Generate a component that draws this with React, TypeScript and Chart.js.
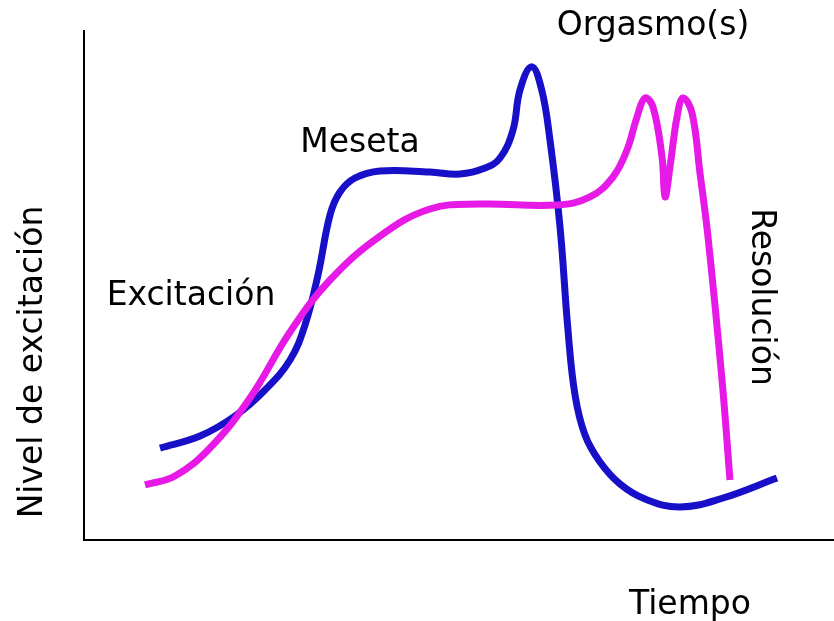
import React, { useEffect, useRef } from "react";
import { Chart, registerables } from "chart.js";

Chart.register(...registerables);

// Time (x) and arousal level (y), both in arbitrary 0–100 units
const blueX = [10.13, 15.47, 20.13, 24.13, 27.47, 29.47, 31.2, 32.8, 34.13, 36.13, 39.47, 46.13, 50.13, 53.47, 55.47, 57.2, 58.13, 59.69, 61.03, 62.13, 63.47, 64.53, 65.47, 66.8, 68.8, 71.47, 74.8, 79.47, 85.2, 92.4];
const blueY = [18.07, 20.43, 24.36, 29.47, 35.36, 42.24, 52.06, 63.85, 68.37, 71.12, 72.5, 72.3, 71.9, 73.08, 75.05, 80.55, 88.41, 92.99, 88.41, 78.59, 61.49, 41.26, 28.49, 20.63, 15.32, 11.0, 8.06, 6.48, 8.25, 12.18];

const pinkX = [8.13, 12.13, 16.8, 22.13, 27.47, 32.8, 39.47, 46.13, 52.8, 63.07, 67.47, 70.53, 72.4, 73.73, 74.8, 75.87, 77.07, 77.47, 78.13, 79.07, 79.87, 81.07, 82.13, 83.2, 85.07, 86.13];
const pinkY = [10.81, 12.57, 18.07, 27.9, 40.86, 51.08, 59.72, 65.03, 66.01, 65.82, 67.39, 71.32, 76.62, 83.1, 86.84, 85.07, 75.25, 67.39, 73.28, 83.1, 86.84, 83.89, 72.1, 59.53, 31.43, 11.79];

const phaseLabels = ["Excitación", "Meseta", "Orgasmo(s)", "Resolución"];
const xTitle = "Tiempo";
const yTitle = "Nivel de excitación";

const FONT = '33px "DejaVu Sans"';

const textPlugin = {
  id: "textPlugin",
  afterDraw(chart: any) {
    const ctx = chart.ctx;
    ctx.save();
    ctx.fillStyle = "#000";
    ctx.font = FONT;
    ctx.textBaseline = "alphabetic";
    ctx.textAlign = "center";
    ctx.fillText(phaseLabels[0], 191, 305);
    ctx.fillText(phaseLabels[1], 360, 152);
    ctx.fillText(phaseLabels[2], 653, 35);
    ctx.fillText(xTitle, 690, 614);
    // Resolución, rotated clockwise
    ctx.save();
    ctx.translate(752, 297);
    ctx.rotate(Math.PI / 2);
    ctx.fillText(phaseLabels[3], 0, 0);
    ctx.restore();
    // Y title, rotated counter-clockwise
    ctx.save();
    ctx.translate(42, 362);
    ctx.rotate(-Math.PI / 2);
    ctx.fillText(yTitle, 0, 0);
    ctx.restore();
    ctx.restore();
  },
};

export default function App() {
  const ref = useRef<HTMLCanvasElement>(null);
  useEffect(() => {
    if (!ref.current) return;
    const chart = new Chart(ref.current, {
      type: "line",
      data: {
        datasets: [
          {
            data: pinkX.map((x, i) => ({ x, y: pinkY[i] })),
            borderColor: "#e619e6",
            borderWidth: 7,
            pointRadius: 0,
            tension: 0.4,
            borderCapStyle: "butt",
            borderJoinStyle: "round",
            fill: false,
          },
          {
            data: blueX.map((x, i) => ({ x, y: blueY[i] })),
            borderColor: "#1810c8",
            borderWidth: 7,
            pointRadius: 0,
            tension: 0.4,
            borderCapStyle: "butt",
            borderJoinStyle: "round",
            fill: false,
          },
        ],
      },
      options: {
        responsive: false,
        animation: false,
        layout: { padding: { top: 31, right: 0, left: 0, bottom: 0 } },
        plugins: { legend: { display: false }, tooltip: { enabled: false } },
        scales: {
          x: {
            type: "linear",
            min: 0,
            max: 100,
            grid: { display: false, drawTicks: false },
            border: { display: true, color: "#000", width: 2 },
            ticks: { display: false },
            afterFit: (s: any) => {
              s.height = 81;
            },
          },
          y: {
            type: "linear",
            min: 0,
            max: 100,
            grid: { display: false, drawTicks: false },
            border: { display: true, color: "#000", width: 2 },
            ticks: { display: false },
            afterFit: (s: any) => {
              s.width = 84;
            },
          },
        },
      },
      plugins: [textPlugin],
    });
    return () => chart.destroy();
  }, []);
  return (
    <div style={{ position: "fixed", left: 0, top: 0, width: 834, height: 621, background: "#fff" }}>
      <canvas ref={ref} width={834} height={621} />
    </div>
  );
}
